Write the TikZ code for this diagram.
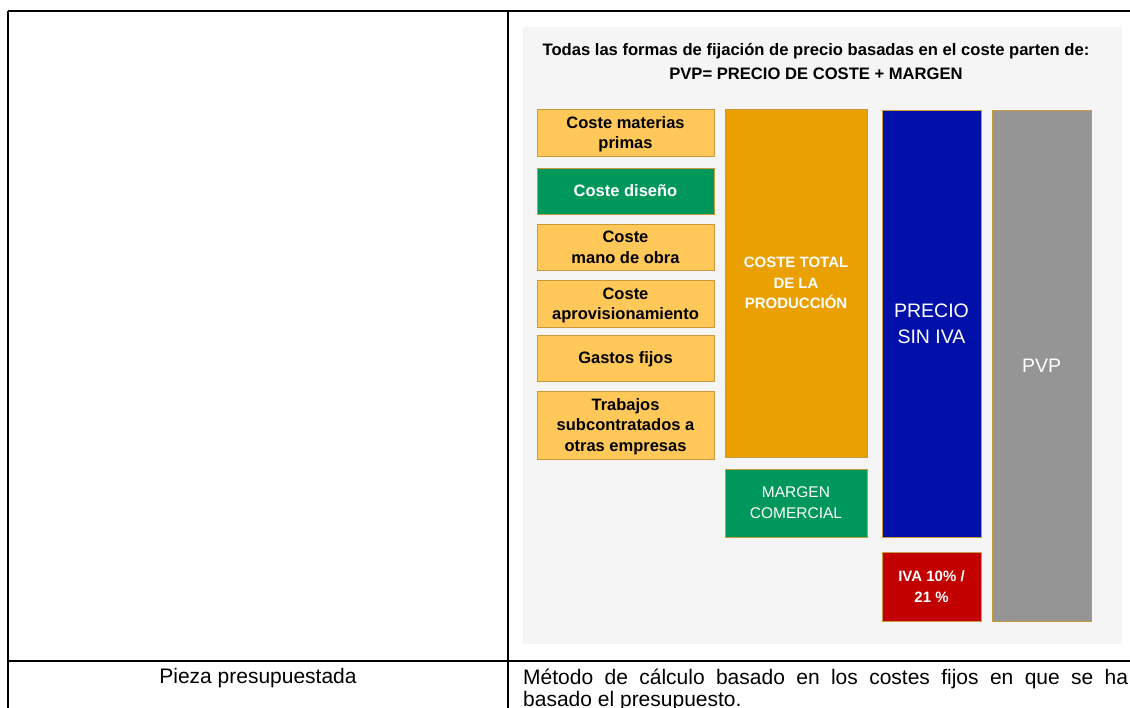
\documentclass[tikz,border=0pt]{standalone}
\usepackage{fontspec}
\setmainfont{Liberation Sans}
\pgfdeclarelayer{panellayer}
\pgfdeclarelayer{boxlayer}
\pgfsetlayers{panellayer,boxlayer,main}
\definecolor{panelgrey}{HTML}{F5F5F5}
\definecolor{lightgold}{HTML}{FFC859}
\definecolor{boxedge}{HTML}{C9993A}
\definecolor{costgreen}{HTML}{00975A}
\definecolor{costorange}{HTML}{EAA000}
\definecolor{priceblue}{HTML}{0010A8}
\definecolor{ivared}{HTML}{C20000}
\definecolor{pvpgrey}{HTML}{959595}
\tikzstyle{cell}=[draw=black, line width=2pt]
\tikzstyle{costbox}=[rectangle, fill=lightgold, draw=boxedge, line width=0.8pt, minimum width=177pt, inner sep=0pt, text depth=0pt, align=center, font=\fontsize{16.5}{20.5}\selectfont\bfseries]
\tikzstyle{designbox}=[costbox, fill=costgreen, text=white]
\tikzstyle{bigbox}=[rectangle, draw=boxedge, line width=0.8pt, inner sep=0pt, align=center, text=white]

\begin{document}
\begin{tikzpicture}[x=1pt, y=-1pt]
	\useasboundingbox (0, 0) rectangle (1130, 708);
	\clip (0, 0) rectangle (1130, 708);
	\begin{pgfonlayer}{panellayer}
		\fill [panelgrey] (523, 27) rectangle (1122, 644);
	\end{pgfonlayer}
	\begin{pgfonlayer}{boxlayer}
		\node [align=center, font=\fontsize{16.6}{24}\selectfont\bfseries] (title) at (816, 61) {Todas las formas de fijación de precio basadas en el coste parten de:\\PVP= PRECIO DE COSTE + MARGEN};
		\node [style=costbox, minimum height=47pt] (materias) at (625.5, 132.5) {Coste materias\\primas};
		\node [style=designbox, minimum height=46pt] (diseno) at (625.5, 191) {Coste diseño};
		\node [style=costbox, minimum height=46pt] (manoobra) at (625.5, 247) {Coste\\mano de obra};
		\node [style=costbox, minimum height=47pt] (aprov) at (625.5, 303.5) {Coste\\aprovisionamiento};
		\node [style=costbox, minimum height=46pt] (gastos) at (625.5, 358) {Gastos fijos};
		\node [style=costbox, minimum height=68pt] (subcontr) at (625.5, 425) {Trabajos\\subcontratados a\\otras empresas};
		\node [style=bigbox, fill=costorange, minimum width=142pt, minimum height=348pt, font=\fontsize{15}{20.5}\selectfont\bfseries] (costetotal) at (796, 283) {COSTE TOTAL\\DE LA\\PRODUCCIÓN};
		\node [style=bigbox, fill=costgreen, minimum width=142pt, minimum height=68pt, font=\fontsize{15.5}{21}\selectfont] (margen) at (796, 503) {MARGEN\\COMERCIAL};
		\node [style=bigbox, fill=priceblue, minimum width=99pt, minimum height=427pt, font=\fontsize{19.5}{26}\selectfont] (precio) at (931.5, 323.5) {PRECIO\\SIN IVA};
		\node [style=bigbox, fill=ivared, minimum width=99pt, minimum height=69pt, font=\fontsize{15}{21}\selectfont\bfseries] (iva) at (931.5, 586.5) {IVA 10\% /\\21 \%};
		\node [style=bigbox, fill=pvpgrey, minimum width=99pt, minimum height=511pt, font=\fontsize{19.5}{24}\selectfont] (pvp) at (1041.5, 365.5) {PVP};
		\node [font=\fontsize{21}{22}\selectfont] (pieza) at (258, 678.5) {Pieza presupuestada};
		\node [anchor=north west, inner sep=0pt, text width=605pt, align=justify, font=\fontsize{21}{21.5}\selectfont] (metodo) at (523, 669) {Método de cálculo basado en los costes fijos en que se ha\linebreak basado el presupuesto.};
	\end{pgfonlayer}
	\draw [style=cell] (8, 11) -- (1140, 11);
	\draw [style=cell] (8, 11) -- (8, 720);
	\draw [style=cell] (508, 11) -- (508, 720);
	\draw [style=cell] (8, 661) -- (1140, 661);
\end{tikzpicture}
\end{document}
